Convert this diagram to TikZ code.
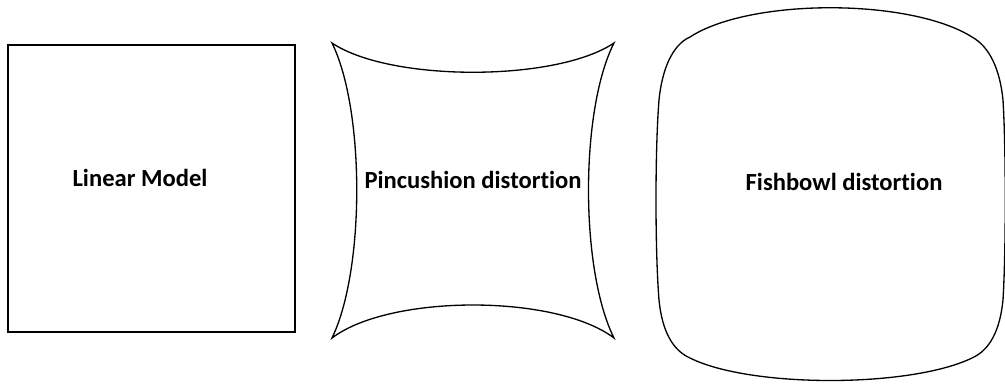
\documentclass[tikz,border=0pt]{standalone}
\usepackage{fontspec}
\setmainfont[RawFeature=-liga]{Carlito}
\usetikzlibrary{calc}
\tikzset{
  lbl/.style={font=\fontsize{14}{16}\selectfont\bfseries,inner sep=0pt},
  outline/.style={draw=black,line width=0.75pt},
  every picture/.style={x=0.02cm,y=-0.02cm},
}
\begin{document}
\begin{tikzpicture}
\useasboundingbox (0,0) rectangle (1005,383);
% linear model
\draw[outline] (8,45) rectangle (295,332);
\node[lbl] (lin) at (140,178) {Linear Model};
% pincushion
\draw[outline] (332,43) .. controls (390,82) and (556,82) .. (614,43)
  .. controls (580,110) and (580,270) .. (614,338)
  .. controls (556,294) and (390,294) .. (332,338)
  .. controls (365,270) and (365,110) .. (332,43) -- cycle;
\node[lbl] (pin) at (473,180) {Pincushion distortion};
% fishbowl
\draw[outline] (690,37) .. controls (750,-2) and (910,-2) .. (972,37)
  .. controls (990,47) and (1000,70) .. (1003,100)
  .. controls (1006,150) and (1006,250) .. (1003,300)
  .. controls (1000,330) and (990,350) .. (972,358)
  .. controls (910,388) and (750,388) .. (690,358)
  .. controls (672,350) and (662,330) .. (659,300)
  .. controls (655,250) and (655,150) .. (659,100)
  .. controls (662,70) and (672,45) .. (690,37) -- cycle;
\node[lbl] (fish) at (844,182) {Fishbowl distortion};
\end{tikzpicture}
\end{document}
